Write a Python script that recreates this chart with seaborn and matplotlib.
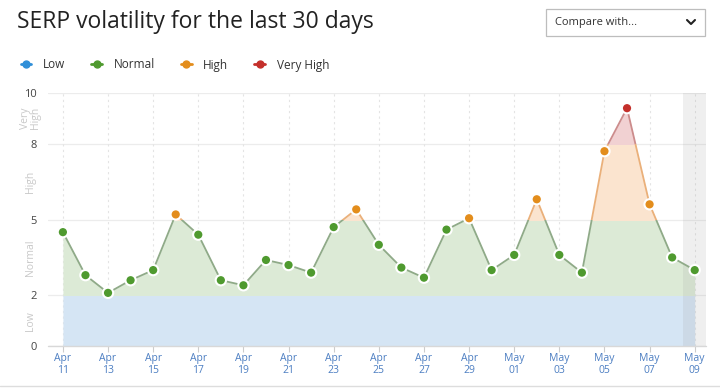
import numpy as np
import pandas as pd
import seaborn as sns
import matplotlib.pyplot as plt
from matplotlib.lines import Line2D
from matplotlib.patches import Rectangle, FancyBboxPatch

sns.set_theme(style="white")
plt.rcParams['font.family'] = ['Open Sans', 'DejaVu Sans']

# data
days = pd.date_range('2021-04-11', '2021-05-09', freq='D')
volatility = [4.5, 2.8, 2.1, 2.6, 3.0, 5.2, 4.4, 2.6, 2.4, 3.4,
              3.2, 2.9, 4.7, 5.4, 4.0, 3.1, 2.7, 4.6, 5.05, 3.0,
              3.6, 5.8, 3.6, 2.9, 7.7, 9.4, 5.6, 3.5, 3.0]
zone_names = ['Low', 'Normal', 'High', 'Very High']
zone_edges = [0, 2, 5, 8, 10]
ytick_vals = [0, 2, 5, 8, 10]

point_colors = {'Low': '#2f8fd8', 'Normal': '#4f9a2f', 'High': '#e38d1c', 'Very High': '#c4302b'}
fill_colors = {'Low': '#d5e5f4', 'Normal': '#dcead6', 'High': '#fbe4cf', 'Very High': '#f1d1d2'}
line_colors = {'Low': '#7fa6cc', 'Normal': '#8faa88', 'High': '#eab07a', 'Very High': '#cc8c8c'}

def zone_of(v):
    if v <= 2:
        return 'Low'
    elif v <= 5:
        return 'Normal'
    elif v <= 8:
        return 'High'
    return 'Very High'

df = pd.DataFrame({'day': days, 'value': volatility})
df['zone'] = df['value'].apply(zone_of)
df['x'] = (df['day'] - days[0]).dt.days

fig = plt.figure(figsize=(7.2, 3.89), dpi=100)
ax = fig.add_axes([48 / 720, 43 / 389, 658 / 720, 253 / 389])

x0, x1 = -0.66, 28.5
ax.set_xlim(x0, x1)
ax.set_ylim(0, 10)

# zone fills: area under the line, clipped to each band
for name, lo, hi in zip(zone_names, zone_edges[:-1], zone_edges[1:]):
    poly = ax.fill_between(df['x'], 0, df['value'], color=fill_colors[name], lw=0, zorder=1)
    poly.set_clip_path(Rectangle((x0, lo), x1 - x0, hi - lo, transform=ax.transData))

# lines coloured per zone by clipping
for name, lo, hi in zip(zone_names, zone_edges[:-1], zone_edges[1:]):
    sns.lineplot(data=df, x='x', y='value', color=line_colors[name], lw=1.3, ax=ax, zorder=3)
    ln = ax.lines[-1]
    ln.set_clip_path(Rectangle((x0, lo), x1 - x0, hi - lo, transform=ax.transData))

sns.scatterplot(data=df, x='x', y='value', hue='zone', palette=point_colors, s=55,
                edgecolor='white', linewidth=1.5, ax=ax, zorder=4, legend=False)

# shaded last day
ax.axvspan(27.5, x1, color='#9a9a9a', alpha=0.15, lw=0, zorder=2)

# grid
for y in ytick_vals:
    ax.axhline(y, color='#ececec', lw=0.9, zorder=0)
for xv in range(0, 29, 2):
    ax.axvline(xv, color='#e4e4e4', lw=0.8, ls=(0, (2, 3)), zorder=0)

for s in ax.spines.values():
    s.set_visible(False)
ax.plot([x0, x1], [0, 0], color='#d8d8d8', lw=1, zorder=2, clip_on=False)

ax.set_yticks(ytick_vals)
ax.set_yticklabels([str(v) for v in ytick_vals], fontsize=8, color='#444444')
ax.tick_params(axis='y', length=0, pad=8)

xt = list(range(0, 29, 2))
ax.set_xticks(xt)
ax.set_xticklabels([days[i].strftime('%b\n%d') for i in xt], fontsize=7.5,
                   color='#4d7fc2', linespacing=1.15)
ax.tick_params(axis='x', length=4, color='#cccccc', width=0.8, pad=1, bottom=True)
ax.set_xlabel('')
ax.set_ylabel('')

# zone labels on the y axis
for name, lo, hi in zip(zone_names, zone_edges[:-1], zone_edges[1:]):
    label = 'Very\nHigh' if name == 'Very High' else name
    ax.text(-0.027, (lo + hi) / 2, label, transform=ax.get_yaxis_transform(),
            rotation=90, ha='center', va='center', fontsize=7.5, color='#c8c8c8',
            linespacing=0.9)

# title
fig.text(17 / 720, 1 - 22 / 389, 'SERP volatility for the last 30 days', fontsize=16.5,
         color='#222222', va='center', ha='left')

# compare box
box = FancyBboxPatch((546 / 720, 1 - 36 / 389), 159 / 720, 27 / 389,
                     boxstyle='square,pad=0', transform=fig.transFigure,
                     facecolor='white', edgecolor='#bdbdbd', lw=0.9)
fig.patches.append(box)
fig.text(555 / 720, 1 - 22 / 389, 'Compare with...', fontsize=8, color='#333333',
         va='center', ha='left')
fig.lines.append(Line2D([687 / 720, 691 / 720, 695 / 720],
                        [1 - 20 / 389, 1 - 24 / 389, 1 - 20 / 389],
                        transform=fig.transFigure, color='#222222', lw=1.5))

# legend
handles = [Line2D([], [], color=point_colors[n], marker='o', markersize=5, lw=2)
           for n in zone_names]
fig.legend(handles, zone_names, loc='center left', bbox_to_anchor=(10 / 720, 1 - 65 / 389),
           ncol=4, frameon=False, fontsize=8.5, handlelength=0.9, columnspacing=2.2,
           handletextpad=1.0, labelcolor='#333333')

# bottom separator
fig.lines.append(Line2D([0, 1], [3 / 389, 3 / 389], transform=fig.transFigure,
                        color='#dddddd', lw=1))

fig.savefig('out.png', dpi=100)
